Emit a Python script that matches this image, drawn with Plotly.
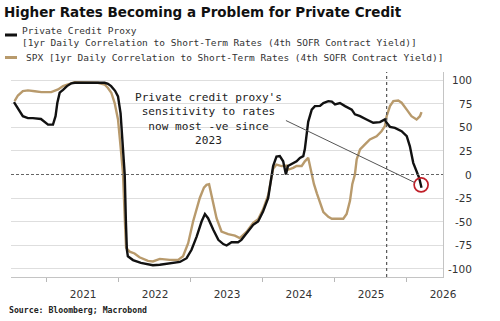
import plotly.graph_objects as go

# ---------------- data ----------------
pc_dates = ["2020-01-16","2020-02-05","2020-03-01","2020-03-27","2020-04-21","2020-06-01","2020-06-21",
            "2020-07-07","2020-08-01","2020-08-14","2020-08-23","2020-09-04","2020-09-21","2020-10-11",
            "2020-11-02","2020-11-20","2021-02-05","2021-04-20","2021-05-07","2021-05-23","2021-06-12",
            "2021-06-27","2021-07-10","2021-07-17","2021-07-25","2021-07-31","2021-08-06","2021-08-11",
            "2021-08-16","2021-09-11","2021-10-21","2021-12-21","2022-01-25","2022-02-28","2022-05-07",
            "2022-06-10","2022-07-05","2022-07-31","2022-08-25","2022-09-11","2022-09-27","2022-10-24",
            "2022-11-18","2022-12-13","2022-12-30","2023-01-24","2023-02-26","2023-03-15","2023-04-10",
            "2023-05-14","2023-06-08","2023-07-03","2023-07-29","2023-08-15","2023-08-23","2023-09-09",
            "2023-09-26","2023-10-13","2023-10-27","2023-11-06","2023-12-03","2023-12-20","2024-01-06",
            "2024-01-23","2024-01-31","2024-02-09","2024-02-17","2024-03-06","2024-03-22","2024-04-17",
            "2024-05-04","2024-05-29","2024-06-16","2024-07-02","2024-07-27","2024-08-22","2024-09-25",
            "2024-10-11","2024-11-06","2024-12-09","2025-01-12","2025-02-15","2025-03-12","2025-03-21",
            "2025-04-07","2025-05-02","2025-06-05","2025-07-01","2025-07-17","2025-08-03","2025-08-20",
            "2025-09-02","2025-09-14"]
pc_values = [77, 70, 62, 60, 60, 59, 56,
             53, 53, 62, 76, 87, 90, 94,
             97, 97.5, 97.5, 97.5, 96.5, 94, 89,
             83, 65, 45, 20, 0, -50, -80,
             -87, -91, -94, -96.5, -96, -95, -93,
             -89, -80, -66, -50, -42, -46.5, -59,
             -69.5, -74, -75.5, -72, -72, -69.5, -62.4,
             -53.5, -50, -39.4, -25, -4, 9, 19,
             19.5, 14, 0, 9, 12.4, 14, 17.7,
             19.5, 27, 40, 56, 69, 72.7, 73,
             76, 78, 77.5, 74.5, 76, 72.7, 69,
             64, 62, 58.5, 55, 55.7, 58.5, 55,
             50.7, 49.6, 46, 40.7, 30, 12.4, 2,
             -3.5, -14]

spx_dates = ["2020-01-19","2020-02-05","2020-03-01","2020-03-27","2020-05-01","2020-06-03","2020-07-23",
             "2020-08-27","2020-09-21","2020-10-25","2020-11-19","2021-03-17","2021-04-20","2021-05-07",
             "2021-05-24","2021-06-10","2021-06-27","2021-07-13","2021-07-22","2021-08-01","2021-08-07",
             "2021-08-25","2021-09-19","2021-10-14","2021-11-26","2021-12-21","2022-01-25","2022-03-17",
             "2022-04-28","2022-05-23","2022-06-18","2022-07-13","2022-08-16","2022-09-06","2022-09-19",
             "2022-10-02","2022-10-23","2022-11-09","2022-12-04","2023-01-07","2023-02-10","2023-03-07",
             "2023-04-10","2023-05-14","2023-06-08","2023-07-03","2023-07-29","2023-08-15","2023-08-23",
             "2023-09-09","2023-10-05","2023-10-31","2023-11-06","2023-12-03","2023-12-20","2024-01-15",
             "2024-01-31","2024-02-17","2024-02-25","2024-03-06","2024-03-17","2024-04-01","2024-04-17",
             "2024-05-04","2024-05-29","2024-06-16","2024-07-10","2024-08-13","2024-08-30","2024-09-16",
             "2024-09-28","2024-10-11","2024-10-20","2024-11-06","2024-12-01","2024-12-26","2025-01-29",
             "2025-02-23","2025-03-12","2025-03-21","2025-04-07","2025-04-24","2025-05-19","2025-06-05",
             "2025-07-01","2025-07-25","2025-08-20","2025-09-06","2025-09-14"]
spx_values = [78, 84, 88.6, 89.4, 88.5, 87.6, 87.6,
              90.4, 94, 96.8, 98.2, 97.5, 95.7, 92,
              87, 76, 58.5, 23, 2, -50, -78,
              -82, -84, -88, -91.8, -92.5, -89.7, -90.8,
              -90.8, -87, -73, -50, -25, -14, -11,
              -10.3, -28.7, -46.5, -60.6, -63.5, -65, -67.7,
              -61, -51.5, -47.5, -37, -22, -3, 6,
              10.6, 8.9, 9.5, 5, 7, 9, 9,
              14, 17.7, 9, 0, -10, -20, -30,
              -40, -45, -47, -47, -47, -42, -28,
              -10, 0, 16, 26.6, 32, 37.2, 40.7,
              46, 51.4, 62, 72.7, 78, 78.7, 76.3,
              69, 62, 58.5, 62, 66.3]

highlight_date = ["2025-09-12"]
highlight_value = [-11]

year_ticks = ["2021-01-01", "2022-01-01", "2023-01-01", "2024-01-01", "2025-01-01", "2026-01-01"]
year_labels = ["2021", "2022", "2023", "2024", "2025", "2026"]
mid_year_ticks = ["2020-07-01", "2021-07-01", "2022-07-01", "2023-07-01", "2024-07-01", "2025-07-01"]
y_grid = [-100, -75, -50, -25, 25, 50, 75, 100]
y_ticks = [100, 75, 50, 25, 0, -25, -50, -75, -100]
y_labels = ["100", "75", "50", "25", "0", "-25", "-50", "-75", "-100"]

marker_date = "2025-03-21"

title = "Higher Rates Becoming a Problem for Private Credit"
pc_name = ["Private Credit Proxy", "[1yr Daily Correlation to Short-Term Rates (4th SOFR Contract Yield)]"]
spx_name = "SPX [1yr Daily Correlation to Short-Term Rates (4th SOFR Contract Yield)]"
note = "Private credit proxy's<br>sensitivity to rates<br>now most -ve since<br>2023"
source = "Source: Bloomberg; Macrobond"

BLACK = "#111111"
TAN = "#b89a6c"
MONO = "DejaVu Sans Mono"
SANS = "DejaVu Sans"

# ---------------- figure ----------------
fig = go.Figure()
fig.add_trace(go.Scatter(x=spx_dates, y=spx_values, mode="lines", name=spx_name,
                         line=dict(color=TAN, width=2.4), showlegend=False))
fig.add_trace(go.Scatter(x=pc_dates, y=pc_values, mode="lines", name=pc_name[0],
                         line=dict(color=BLACK, width=2.4), showlegend=False))
fig.add_trace(go.Scatter(x=highlight_date, y=highlight_value, mode="markers", showlegend=False,
                         marker=dict(symbol="circle-open", size=14, color="#c01f28",
                                     line=dict(width=1.7, color="#c01f28"))))

L, R, T, B = 11, 57, 72, 44
W, H = 500, 321
pw, ph = W - L - R, H - T - B


def px(xp):
    return (xp - L) / pw


def py(yp):
    return (H - B - yp) / ph


shapes = [
    dict(type="line", xref="paper", x0=0, x1=1, yref="y", y0=0, y1=0,
         line=dict(color="#666666", width=1, dash="3px,2px")),
    dict(type="line", xref="x", x0=marker_date, x1=marker_date, yref="paper", y0=0, y1=1,
         line=dict(color="#555555", width=1.2, dash="dot")),
    dict(type="line", xref="x", x0="2023-10-27", x1="2025-08-10", yref="y", y0=57.4, y1=-8.5,
         line=dict(color="#555555", width=1)),
    # legend symbols
    dict(type="line", xref="paper", yref="paper", x0=px(5), x1=px(17), y0=py(35), y1=py(35),
         line=dict(color=BLACK, width=3)),
    dict(type="line", xref="paper", yref="paper", x0=px(5), x1=px(17), y0=py(57.5), y1=py(57.5),
         line=dict(color=TAN, width=3)),
]

annotations = []
for v, lab in zip(y_ticks, y_labels):
    annotations.append(dict(xref="paper", x=px(474), xanchor="right", yref="y", y=v, yanchor="middle",
                            text=lab, showarrow=False, font=dict(family=SANS, size=10.5, color="#333333")))

annotations += [
    dict(xref="paper", x=px(20), xanchor="left", yref="paper", y=py(30), yanchor="middle",
         text=pc_name[0], showarrow=False, font=dict(family=MONO, size=9.5, color="#333333")),
    dict(xref="paper", x=px(20), xanchor="left", yref="paper", y=py(42.5), yanchor="middle",
         text=pc_name[1], showarrow=False, font=dict(family=MONO, size=9.5, color="#333333")),
    dict(xref="paper", x=px(24), xanchor="left", yref="paper", y=py(57.5), yanchor="middle",
         text=spx_name, showarrow=False, font=dict(family=MONO, size=9.5, color="#333333")),
    dict(xref="x", x="2022-10-01", yref="y", y=59, xanchor="center", yanchor="middle", align="center",
         text=note, showarrow=False, font=dict(family=MONO, size=11.1, color="#222222")),
    dict(xref="paper", x=px(7), xanchor="left", yref="paper", y=py(309.5), yanchor="middle",
         text="<b>" + source + "</b>", showarrow=False, font=dict(family=MONO, size=8.2, color="#222222")),
]

fig.update_layout(
    width=W, height=H,
    margin=dict(l=L, r=R, t=T, b=B, pad=0),
    paper_bgcolor="white", plot_bgcolor="white",
    title=dict(text="<b>" + title + "</b>", xref="container", yref="container",
               x=4 / W, xanchor="left", y=1 - 12 / H, yanchor="middle",
               font=dict(family=SANS, size=13.5, color="#111111")),
    shapes=shapes, annotations=annotations,
    xaxis=dict(type="date", range=["2020-01-01", "2026-01-01"],
               tickmode="array", tickvals=year_ticks, ticktext=year_labels, ticks="",
               ticklabelstandoff=7,
               showgrid=False, zeroline=False, showline=True, linecolor="#c4c4c4", linewidth=1,
               tickfont=dict(family=SANS, size=10.5, color="#333333"),
               minor=dict(tickmode="array", tickvals=mid_year_ticks, ticks="outside", ticklen=4,
                          tickcolor="#b8b8b8", tickwidth=1, showgrid=False)),
    yaxis=dict(range=[-109, 109], tickmode="array", tickvals=y_grid, showticklabels=False,
               side="right", ticks="", showgrid=True, gridcolor="#dedede", gridwidth=1,
               zeroline=False, showline=True, linecolor="#c4c4c4", linewidth=1),
)

fig.write_html("out.html")
